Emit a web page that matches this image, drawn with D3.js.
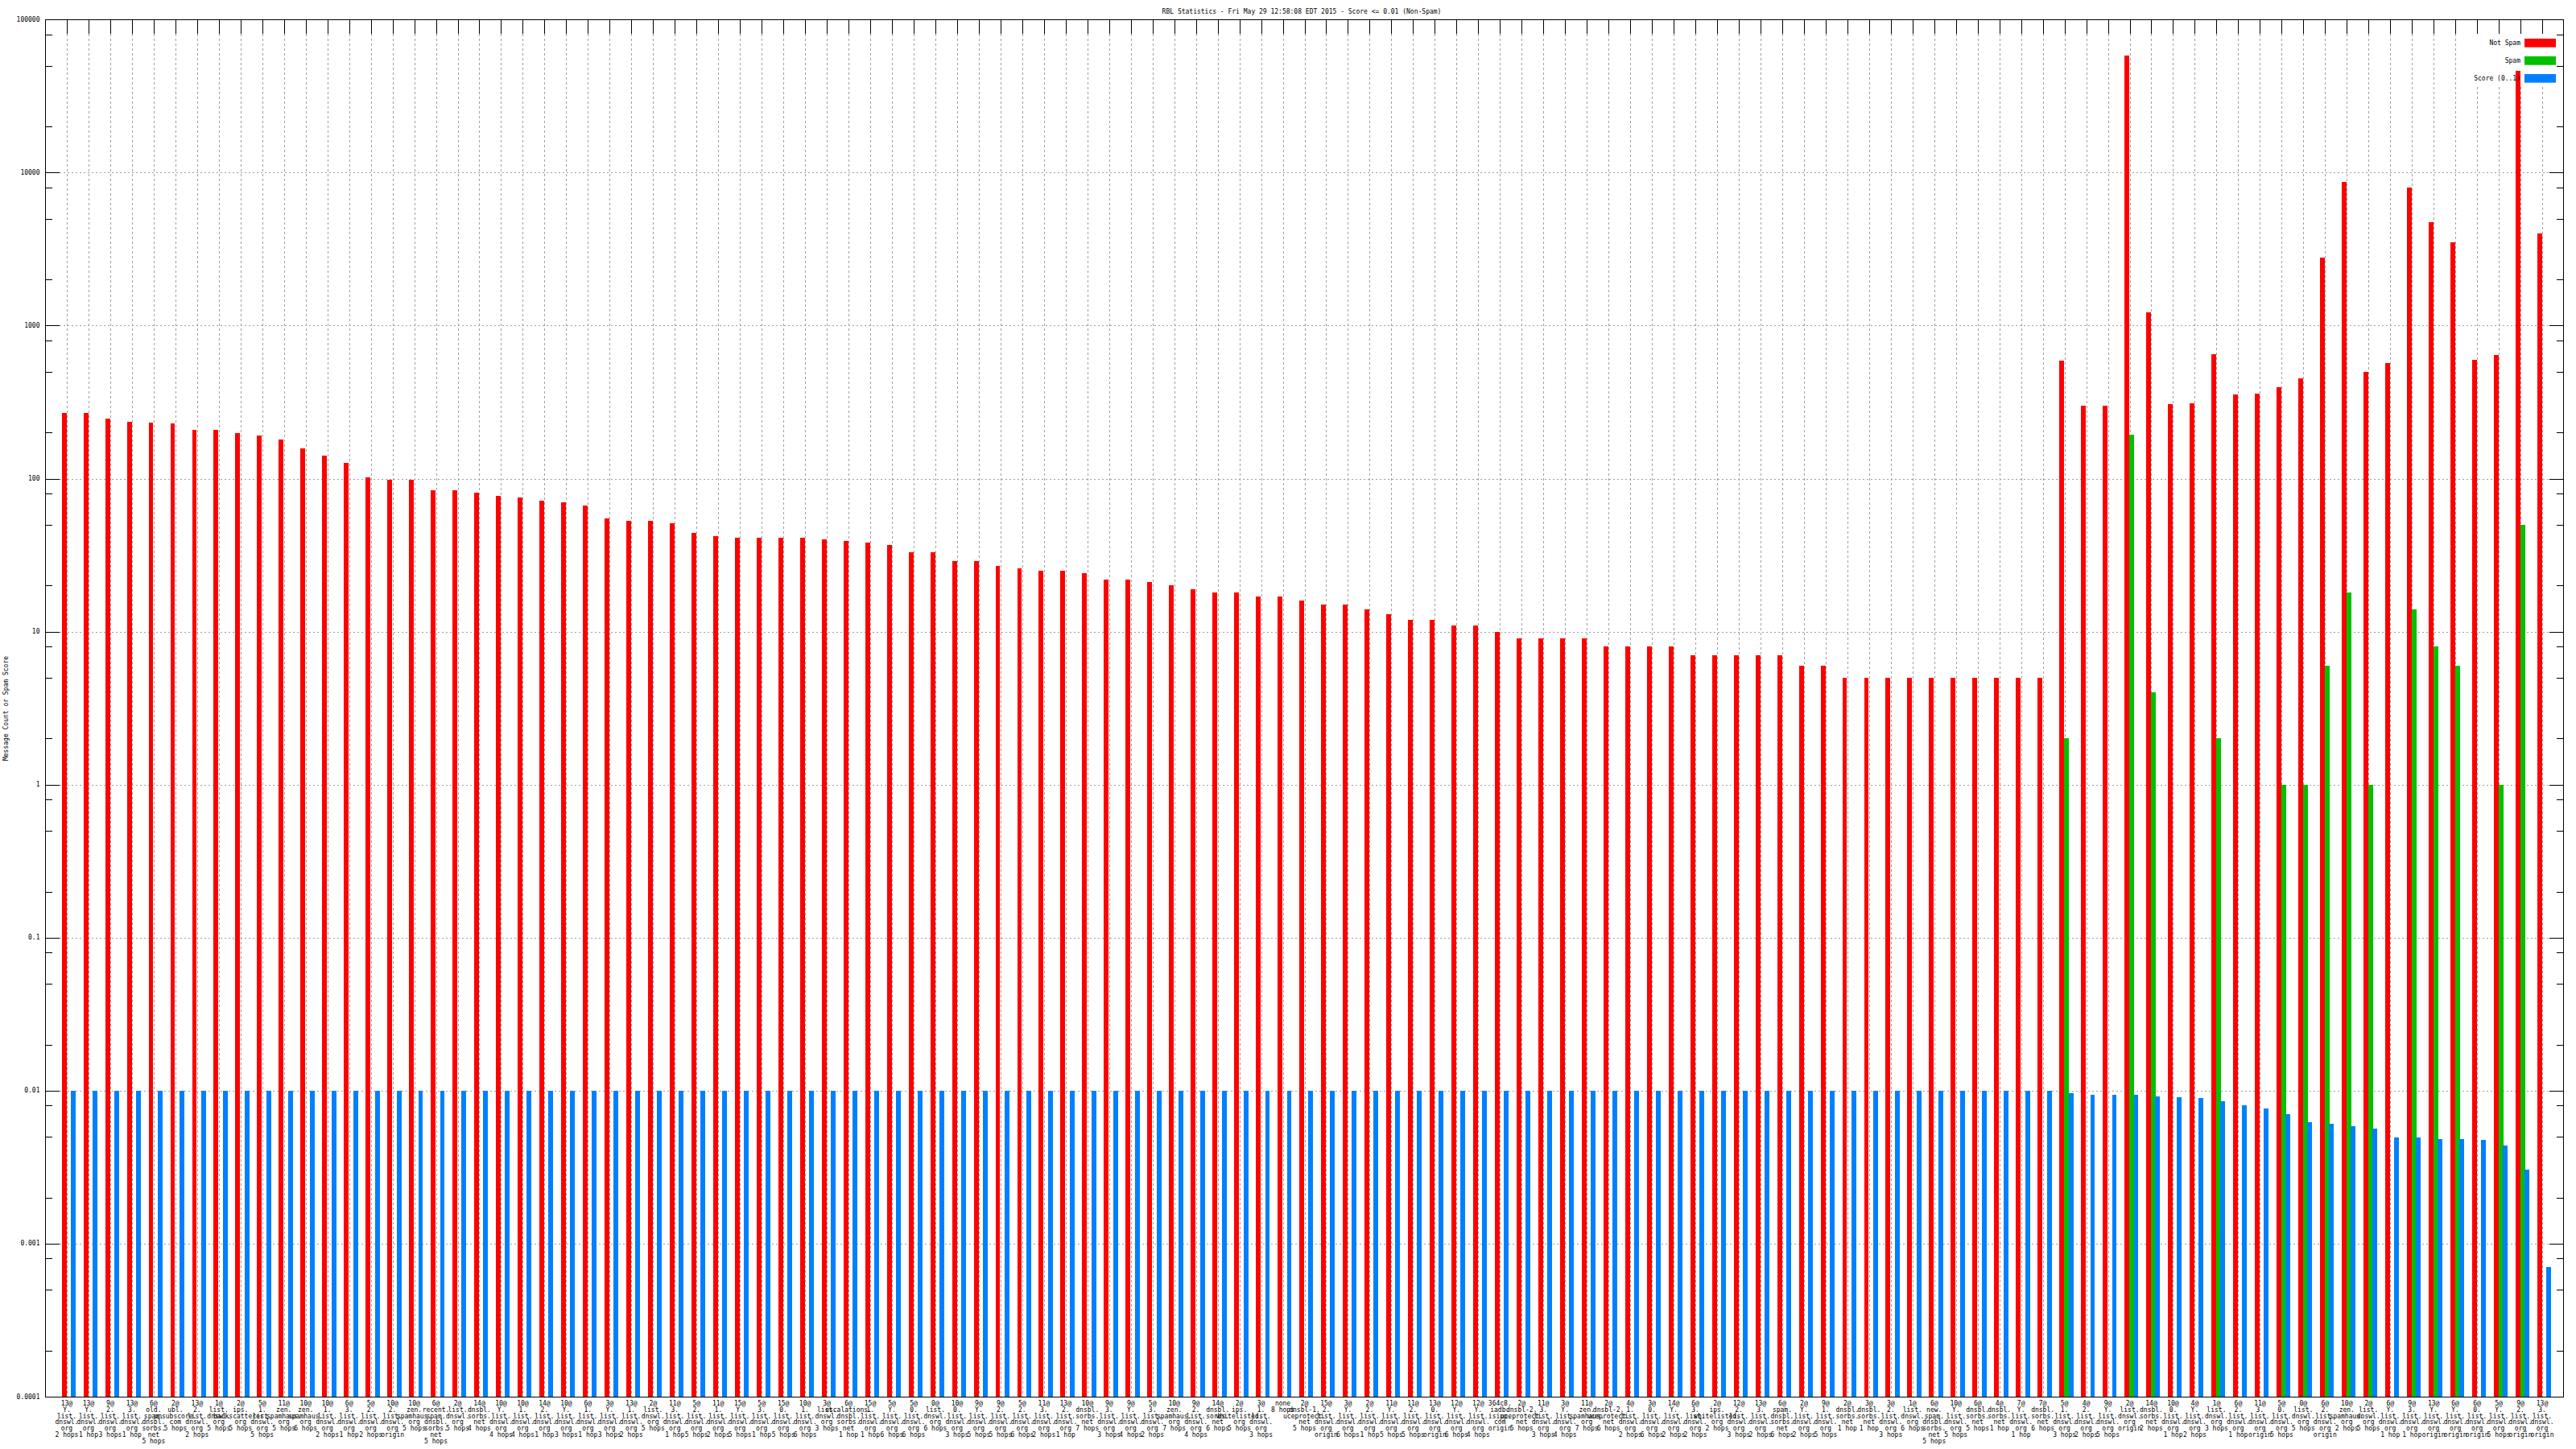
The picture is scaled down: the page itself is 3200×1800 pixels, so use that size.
<!DOCTYPE html>
<html><head><meta charset="utf-8">
<script src="https://cdn.jsdelivr.net/npm/d3@7"></script>
<style>
body{margin:0;background:#fff}
svg{display:block}
text{font-family:'DejaVu Sans Mono','Liberation Mono',monospace;font-size:8px;fill:#000}
</style>
</head><body>
<svg id="chart" width="3200" height="1800"></svg>
<script>
const categories = [
"13@Y.list.dnswl.org 2 hops","13@Y.list.dnswl.org 1 hop","9@2.list.dnswl.org 3 hops","13@3.list.dnswl.org 1 hop",
"6@old.spam.dnsbl.sorbs.net 5 hops","2@ubl.unsubscore.com 5 hops","13@2.list.dnswl.org 2 hops","1@list.dnswl.org 5 hops",
"2@ips.backscatterer.org 5 hops","5@1.list.dnswl.org 5 hops","11@zen.spamhaus.org 5 hops","10@zen.spamhaus.org 6 hops",
"10@1.list.dnswl.org 2 hops","6@3.list.dnswl.org 1 hop","5@2.list.dnswl.org 2 hops","10@2.list.dnswl.org origin",
"10@zen.spamhaus.org 5 hops","6@recent.spam.dnsbl.sorbs.net 5 hops","2@list.dnswl.org 5 hops","14@dnsbl.sorbs.net 4 hops",
"10@Y.list.dnswl.org 4 hops","10@1.list.dnswl.org 4 hops","14@2.list.dnswl.org 1 hop","10@Y.list.dnswl.org 3 hops",
"6@1.list.dnswl.org 1 hop","3@Y.list.dnswl.org 3 hops","13@1.list.dnswl.org 2 hops",
"2@list.dnswl.org 5 hops","11@3.list.dnswl.org 1 hop","5@2.list.dnswl.org 5 hops","11@1.list.dnswl.org 2 hops",
"15@Y.list.dnswl.org 5 hops","5@3.list.dnswl.org 1 hop","15@0.list.dnswl.org 5 hops","10@1.list.dnswl.org 6 hops",
"3@list.dnswl.org 3 hops","6@escalations.dnsbl.sorbs.net 1 hop","15@1.list.dnswl.org 1 hop","5@Y.list.dnswl.org 6 hops",
"5@0.list.dnswl.org 6 hops","0@list.dnswl.org 6 hops","10@0.list.dnswl.org 3 hops","9@Y.list.dnswl.org 5 hops",
"9@2.list.dnswl.org 5 hops","5@2.list.dnswl.org 6 hops","11@3.list.dnswl.org 2 hops","13@2.list.dnswl.org 1 hop",
"10@dnsbl.sorbs.net 7 hops","9@3.list.dnswl.org 3 hops","9@Y.list.dnswl.org 4 hops","5@3.list.dnswl.org 2 hops",
"10@zen.spamhaus.org 7 hops","9@2.list.dnswl.org 4 hops","14@dnsbl.sorbs.net 6 hops","2@ips.whitelisted.org 5 hops",
"3@1.list.dnswl.org 3 hops","none 8 hops",
"2@dnsbl-1.uceprotect.net 5 hops","15@2.list.dnswl.org origin","3@Y.list.dnswl.org 6 hops","2@2.list.dnswl.org 1 hop",
"11@Y.list.dnswl.org 5 hops","11@2.list.dnswl.org 5 hops","13@0.list.dnswl.org origin","12@Y.list.dnswl.org 6 hops",
"12@Y.list.dnswl.org 4 hops","364c8.iadb.isipp.com origin","2@dnsbl-2.uceprotect.net 5 hops","11@3.list.dnswl.org 3 hops",
"3@Y.list.dnswl.org 4 hops","11@zen.spamhaus.org 7 hops","2@dnsbl-2.uceprotect.net 6 hops","4@1.list.dnswl.org 2 hops",
"3@0.list.dnswl.org 6 hops","14@Y.list.dnswl.org 2 hops","6@3.list.dnswl.org 2 hops","2@ips.whitelisted.org 2 hops",
"12@2.list.dnswl.org 3 hops","13@3.list.dnswl.org 2 hops","6@spam.dnsbl.sorbs.net 6 hops","2@Y.list.dnswl.org 2 hops",
"9@1.list.dnswl.org 5 hops","2@dnsbl.sorbs.net 1 hop","3@dnsbl.sorbs.net 1 hop","3@2.list.dnswl.org 3 hops",
"1@list.dnswl.org 6 hops","6@new.spam.dnsbl.sorbs.net 5 hops",
"10@Y.list.dnswl.org 5 hops","6@dnsbl.sorbs.net 5 hops","4@dnsbl.sorbs.net 1 hop","7@Y.list.dnswl.org 1 hop",
"7@dnsbl.sorbs.net 6 hops","5@1.list.dnswl.org 3 hops","4@2.list.dnswl.org 2 hops","9@Y.list.dnswl.org 5 hops",
"2@list.dnswl.org origin","14@dnsbl.sorbs.net 2 hops","10@0.list.dnswl.org 1 hop","4@Y.list.dnswl.org 2 hops",
"1@list.dnswl.org 3 hops","6@2.list.dnswl.org 1 hop","11@3.list.dnswl.org origin","5@0.list.dnswl.org 5 hops",
"0@list.dnswl.org 5 hops","6@2.list.dnswl.org origin","10@zen.spamhaus.org 2 hops","2@list.dnswl.org 5 hops",
"6@Y.list.dnswl.org 1 hop","9@3.list.dnswl.org 1 hop","13@Y.list.dnswl.org origin","6@Y.list.dnswl.org origin",
"6@0.list.dnswl.org origin","5@Y.list.dnswl.org 5 hops","9@2.list.dnswl.org origin","13@3.list.dnswl.org origin"
];

const notSpam = [
270,270,248,234,231,229,207,207,198,192,181,157,141,126,102,98,98,84,84,81,77,75,72,70,67,55,53,
53,51,44,42,41,41,41,41,40,39,38,37,33,33,29,29,27,26,25,25,24,22,22,21,20,19,18,18,17,17,16,15,15,
14,13,12,12,11,11,10,9,9,9,9,8,8,8,8,7,7,7,7,7,6,6,5,5,5,5,5,5,5,5,5,5,
590,298,298,57900,1220,305,309,654,353,361,398,452,2773,8690,498,568,7940,4730,3518,594,640,46300,4020
];

const spam = [
0,0,0,0,0,0,0,0,0,0,0,0,0,0,0,0,0,0,0,0,0,0,0,0,0,0,0,
0,0,0,0,0,0,0,0,0,0,0,0,0,0,0,0,0,0,0,0,0,0,0,0,0,0,0,0,0,0,0,0,0,
0,0,0,0,0,0,0,0,0,0,0,0,0,0,0,0,0,0,0,0,0,0,0,0,0,0,0,0,0,0,0,0,
2,0,0,193,4,0,0,2,0,0,1,1,6,18,1,0,14,8,6,0,1,50,0
];

const score = [
0.01,0.01,0.01,0.01,0.01,0.01,0.01,0.01,0.01,0.01,0.01,0.01,0.01,0.01,0.01,0.01,0.01,0.01,0.01,0.01,0.01,0.01,0.01,0.01,0.01,0.01,0.01,
0.01,0.01,0.01,0.01,0.01,0.01,0.01,0.01,0.01,0.01,0.01,0.01,0.01,0.01,0.01,0.01,0.01,0.01,0.01,0.01,0.01,0.01,0.01,0.01,0.01,0.01,0.01,0.01,0.01,0.01,0.01,0.01,0.01,
0.01,0.01,0.01,0.01,0.01,0.01,0.01,0.01,0.01,0.01,0.01,0.01,0.01,0.01,0.01,0.01,0.01,0.01,0.01,0.01,0.01,0.01,0.01,0.01,0.01,0.01,0.01,0.01,0.01,0.01,0.01,0.01,
0.00957,0.00945,0.00945,0.00934,0.00922,0.00911,0.0090,0.00848,0.00798,0.00769,0.00706,0.00626,0.00611,0.00589,0.00568,0.00497,0.00497,0.0048,0.0048,0.00474,0.0044,0.00303,0.000706
];

const yTickLabels = ["100000","10000","1000","100","10","1","0.1","0.01","0.001","0.0001"];
const seriesNames = ["Not Spam","Spam","Score (0..1)"];
const seriesColors = ["#ff0000","#00c000","#0080ff"];
const titleText = "RBL Statistics - Fri May 29 12:58:08 EDT 2015 - Score <= 0.01 (Non-Spam)";
const yAxisTitle = "Message Count or Spam Score";

const L = 56, R = 3185, T = 24.3, B = 1735;
const svg = d3.select("#chart");
const n = categories.length;
const x = d3.scaleLinear().domain([-1, n]).range([L, R]);
const y = d3.scaleLog().domain([1e-4, 1e5]).range([B, T]);
const yVals = yTickLabels.map(Number);

svg.append("rect").attr("width",3200).attr("height",1800).attr("fill","#fff");

// grid
const grid = svg.append("g").attr("shape-rendering","crispEdges");
grid.selectAll("line.v").data(d3.range(n)).join("line")
  .attr("x1", i => Math.round(x(i))+0.5).attr("x2", i => Math.round(x(i))+0.5)
  .attr("y1", T+18).attr("y2", B)
  .attr("stroke","#a0a0a0").attr("stroke-width",1).attr("stroke-dasharray","3,3");
grid.selectAll("line.h").data(yVals.slice(1, -1)).join("line")
  .attr("x1", L+18).attr("x2", R-18)
  .attr("y1", d => Math.round(y(d))+0.5).attr("y2", d => Math.round(y(d))+0.5)
  .attr("stroke","#a0a0a0").attr("stroke-width",1).attr("stroke-dasharray","2,3");

// legend background
svg.append("rect").attr("x",3064).attr("y",T+1).attr("width",R-3064-1).attr("height",106-T).attr("fill","#fff");

// bars
const barW = 0.22;
const offsets = [-0.234, -0.011, 0.185];
const seriesData = [notSpam, spam, score];
const barsG = svg.append("g").attr("shape-rendering","crispEdges");
seriesData.forEach((vals, s) => {
  barsG.append("g").selectAll("rect")
    .data(vals.map((v,i)=>({v,i})).filter(d => d.v > 0))
    .join("rect")
    .attr("x", d => x(d.i + offsets[s]))
    .attr("width", d => x(d.i + offsets[s] + barW) - x(d.i + offsets[s]))
    .attr("y", d => y(d.v))
    .attr("height", d => y(1e-4) - y(d.v))
    .attr("fill", seriesColors[s]);
});

// legend
const lg = svg.append("g");
seriesNames.forEach((name, s) => {
  const cy = 53.3 + s*22;
  lg.append("text").attr("x",3131).attr("y",cy).attr("text-anchor","end")
    .attr("dominant-baseline","middle").text(name);
  lg.append("rect").attr("x",3136).attr("y",cy-5.3).attr("width",39).attr("height",10.7)
    .attr("fill",seriesColors[s]);
});

// border
const ax = svg.append("g").attr("shape-rendering","crispEdges").attr("stroke","#000").attr("fill","none");
ax.append("rect").attr("x",L+0.5).attr("y",Math.round(T)+0.5).attr("width",R-L-1).attr("height",B-Math.round(T)).attr("stroke-width",1);

// y ticks major
yVals.forEach(v => {
  const yy = Math.round(y(v))+0.5;
  ax.append("line").attr("x1",L).attr("x2",L+18).attr("y1",yy).attr("y2",yy);
  ax.append("line").attr("x1",R-18).attr("x2",R).attr("y1",yy).attr("y2",yy);
});
// minor ticks at 2,5,8 per decade
const minorVals = [];
for (let e = -4; e < 5; e++) [2,5,8].forEach(m => minorVals.push(m*Math.pow(10,e)));
minorVals.forEach(v => {
  const yy = Math.round(y(v))+0.5;
  ax.append("line").attr("x1",L).attr("x2",L+9).attr("y1",yy).attr("y2",yy);
  ax.append("line").attr("x1",R-9).attr("x2",R).attr("y1",yy).attr("y2",yy);
});
// x ticks (top)
d3.range(n).forEach(i => {
  const xx = Math.round(x(i))+0.5;
  ax.append("line").attr("x1",xx).attr("x2",xx).attr("y1",T).attr("y2",T+18);
});

// y tick labels
svg.append("g").selectAll("text").data(yTickLabels).join("text")
  .attr("x", 49.5).attr("y", d => y(+d)).attr("text-anchor","end")
  .attr("dominant-baseline","middle").text(d => d);

// x labels
function labelLines(s){
  const sp = s.indexOf(' ');
  const host = s.slice(0, sp), hop = s.slice(sp+1);
  const lines = [];
  let rest = host;
  const at = rest.indexOf('@');
  if (at >= 0){ lines.push(rest.slice(0, at+1)); rest = rest.slice(at+1); }
  const parts = rest.split('.');
  parts.forEach((p,i)=>lines.push(i < parts.length-1 ? p+'.' : p));
  lines.push(hop);
  return lines;
}
const xl = svg.append("g");
categories.forEach((c, i) => {
  const t = xl.append("text").attr("text-anchor","middle");
  labelLines(c).forEach((ln, k) => {
    t.append("tspan").attr("x", x(i)).attr("y", 1746 + k*7.8).text(ln);
  });
});

// title
svg.append("text").attr("x",1617).attr("y",14).attr("text-anchor","middle")
  .attr("dominant-baseline","middle").text(titleText);
// y axis title
svg.append("text").attr("transform","translate(7,880) rotate(-90)")
  .attr("text-anchor","middle").attr("dominant-baseline","middle").text(yAxisTitle);
</script>
</body></html>
